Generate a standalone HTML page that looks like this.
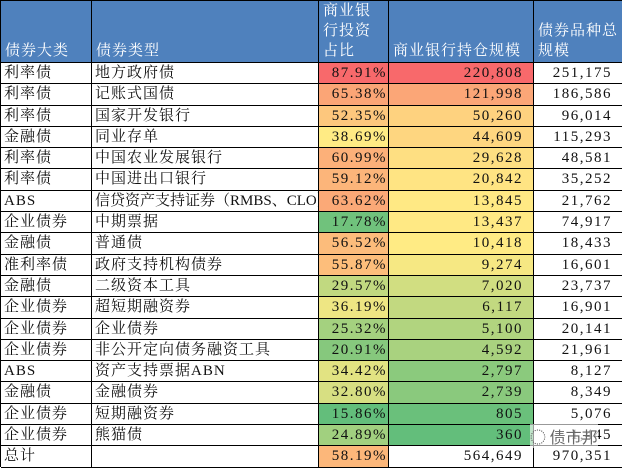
<!DOCTYPE html>
<html><head><meta charset="utf-8"><style>
*{margin:0;padding:0;box-sizing:border-box}
body{width:622px;height:467px;background:#fff;overflow:hidden;font-family:"Liberation Serif","Noto Serif CJK SC",serif;font-size:15px;color:#111}
#g{display:grid;grid-template-columns:91px 227px 70px 145px 89px;grid-template-rows:62px repeat(19,21.3px);border-left:1px solid #000;border-top:1px solid #000;width:622px;height:467px}
#g div{border-right:1px solid #000;border-bottom:1px solid #000;white-space:nowrap;overflow:hidden;line-height:20px;padding:0 3px;letter-spacing:1px}
#g .h{background:#4f81bd;color:#fff;display:flex;align-items:flex-end;white-space:normal;line-height:20px;padding:0 3px 1px 4px;letter-spacing:1px}
#g .r{text-align:right;letter-spacing:1.5px}
#g .t{letter-spacing:0}
.c3{padding-right:1px!important}.c4,.c5{padding-right:10px!important}
#wm{position:absolute;left:530px;top:424px;font-size:16px;color:#666;font-family:"Noto Sans CJK SC",sans-serif;background:rgba(255,255,255,0.6)}
</style></head><body>
<div id="g"></div>
<div id="wm">◌ 债市邦</div>
<script>
var d=[["利率债","地方政府债",87.91,"220,808","251,175"],["利率债","记账式国债",65.38,"121,998","186,586"],["利率债","国家开发银行",52.35,"50,260","96,014"],["金融债","同业存单",38.69,"44,609","115,293"],["利率债","中国农业发展银行",60.99,"29,628","48,581"],["利率债","中国进出口银行",59.12,"20,842","35,252"],["ABS","信贷资产支持证券（RMBS、CLO）",63.62,"13,845","21,762"],["企业债券","中期票据",17.78,"13,437","74,917"],["金融债","普通债",56.52,"10,418","18,433"],["准利率债","政府支持机构债券",55.87,"9,274","16,601"],["金融债","二级资本工具",29.57,"7,020","23,737"],["企业债券","超短期融资券",36.19,"6,117","16,901"],["企业债券","企业债券",25.32,"5,100","20,141"],["企业债券","非公开定向债务融资工具",20.91,"4,592","21,961"],["ABS","资产支持票据ABN",34.42,"2,797","8,127"],["金融债","金融债券",32.80,"2,739","8,349"],["企业债券","短期融资券",15.86,"805","5,076"],["企业债券","熊猫债",24.89,"360","1,445"],["总计","",58.19,"564,649","970,351"]];
function n(s){return +s.replace(/,/g,'')}
function col(v,mn,md,mx){var G=[99,190,123],Y=[255,235,132],R=[248,105,107],a,b,t;
if(v<=md){a=G;b=Y;t=(v-mn)/(md-mn)}else{a=Y;b=R;t=(v-md)/(mx-md)}
return 'rgb('+a.map(function(x,i){return Math.round(x+(b[i]-x)*t)}).join(',')+')'}
var g=document.getElementById('g'),h='';
['债券大类','债券类型','商业银行投资占比','商业银行持仓规模','债券品种总规模'].forEach(function(t){h+='<div class="h">'+t+'</div>'});
d.forEach(function(r,i){
 var tot=i==18;
 var c3=col(r[2],15.86,38.69,87.91);
 var c4=tot?'#fff':col(n(r[3]),360,9846,220808);
 h+='<div>'+r[0]+'</div><div'+(i==6?' class="t"':'')+'>'+r[1]+'</div><div class="r c3" style="background:'+c3+'">'+r[2].toFixed(2)+'%</div><div class="r c4" style="background:'+c4+'">'+r[3]+'</div><div class="r c5">'+r[4]+'</div>';
});
g.innerHTML=h;
</script>
</body></html>
